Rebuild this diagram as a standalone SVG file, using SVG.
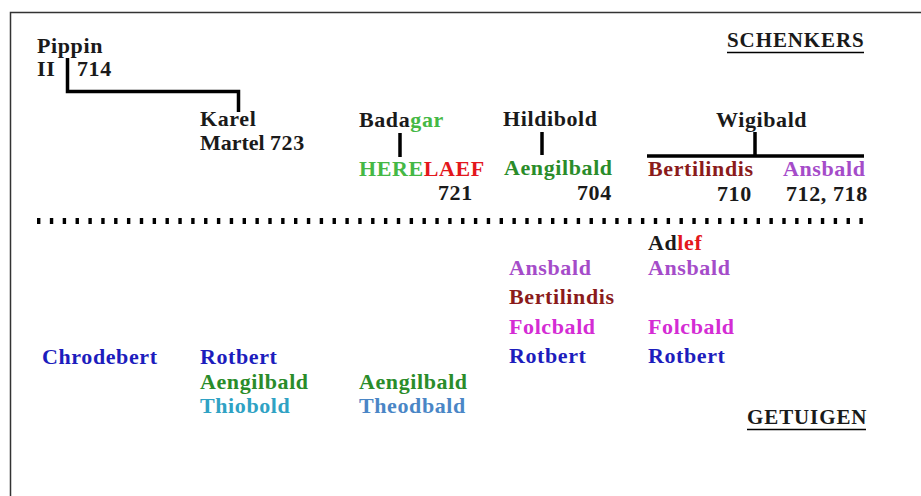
<svg xmlns="http://www.w3.org/2000/svg" width="921" height="496" viewBox="0 0 921 496">
<style>
text{font-family:"Liberation Serif","DejaVu Serif",serif;font-weight:bold;font-size:22px;letter-spacing:0.6px;fill:#1a1a1a}
.lg{fill:#45b845}.rd{fill:#e3171c}.gr{fill:#2a8c2a}.dr{fill:#8b1b1b}.pu{fill:#a54cc9}
.mg{fill:#d42cd4}.bl{fill:#1d1dbd}.tl{fill:#2fa2c4}.sb{fill:#4a86c6}
.ln{stroke:#000;stroke-width:3.5;fill:none}
.hd{font-size:21px;letter-spacing:0.9px}
</style>
<rect width="921" height="496" fill="#fff"/>
<path d="M10.5 496V12.5H921" fill="none" stroke="#333" stroke-width="1.5"/>
<g id="connectors">
<path class="ln" d="M67.5 58V91.5H238.5V112"/>
<path class="ln" d="M400 133V157"/>
<path class="ln" d="M542 132V155"/>
<path class="ln" d="M755 132V156M647 156H864"/>
<path d="M37 221H872" stroke="#000" stroke-width="6" stroke-dasharray="3.4 9.45" fill="none"/>
</g>
<g id="schenkers"><text class="hd" x="727" y="47">SCHENKERS</text><path d="M727 52.5H864" stroke="#000" stroke-width="1.5"/></g>
<g id="getuigen"><text class="hd" x="747" y="424">GETUIGEN</text><path d="M747 429.5H866" stroke="#000" stroke-width="1.5"/></g>
<g id="pippin"><text x="37" y="53">Pippin</text><text x="37" y="76">II</text><text x="77" y="76">714</text></g>
<g id="karel"><text x="200" y="126">Karel</text><text x="200" y="150" style="letter-spacing:0">Martel</text><text x="270" y="150">723</text></g>
<g id="badagar"><text x="359" y="127">Bada<tspan class="lg">gar</tspan></text></g>
<g id="herelaef"><text x="359" y="176"><tspan class="lg">HERE</tspan><tspan class="rd">LAEF</tspan></text><text x="438" y="200">721</text></g>
<g id="hildibold"><text x="503" y="126">Hildibold</text></g>
<g id="aengilbald1"><text class="gr" x="504" y="175">Aengilbald</text><text x="577" y="200">704</text></g>
<g id="wigibald"><text x="716" y="127">Wigibald</text></g>
<g id="bertilindis1"><text class="dr" x="648" y="176">Bertilindis</text><text x="717" y="201">710</text></g>
<g id="ansbald1"><text class="pu" x="783" y="176">Ansbald</text><text x="786" y="201">712, 718</text></g>
<g id="w-chrodebert"><text class="bl" x="42" y="364">Chrodebert</text></g>
<g id="w-col2"><text class="bl" x="200" y="364">Rotbert</text><text class="gr" x="200" y="389">Aengilbald</text><text class="tl" x="200" y="413">Thiobold</text></g>
<g id="w-col3"><text class="gr" x="359" y="389">Aengilbald</text><text class="sb" x="359" y="413">Theodbald</text></g>
<g id="w-col4"><text class="pu" x="509" y="275">Ansbald</text><text class="dr" x="509" y="304">Bertilindis</text><text class="mg" x="509" y="334">Folcbald</text><text class="bl" x="509" y="363">Rotbert</text></g>
<g id="w-col5"><text x="648" y="250">Ad<tspan class="rd">lef</tspan></text><text class="pu" x="648" y="275">Ansbald</text><text class="mg" x="648" y="334">Folcbald</text><text class="bl" x="648" y="363">Rotbert</text></g>
</svg>
